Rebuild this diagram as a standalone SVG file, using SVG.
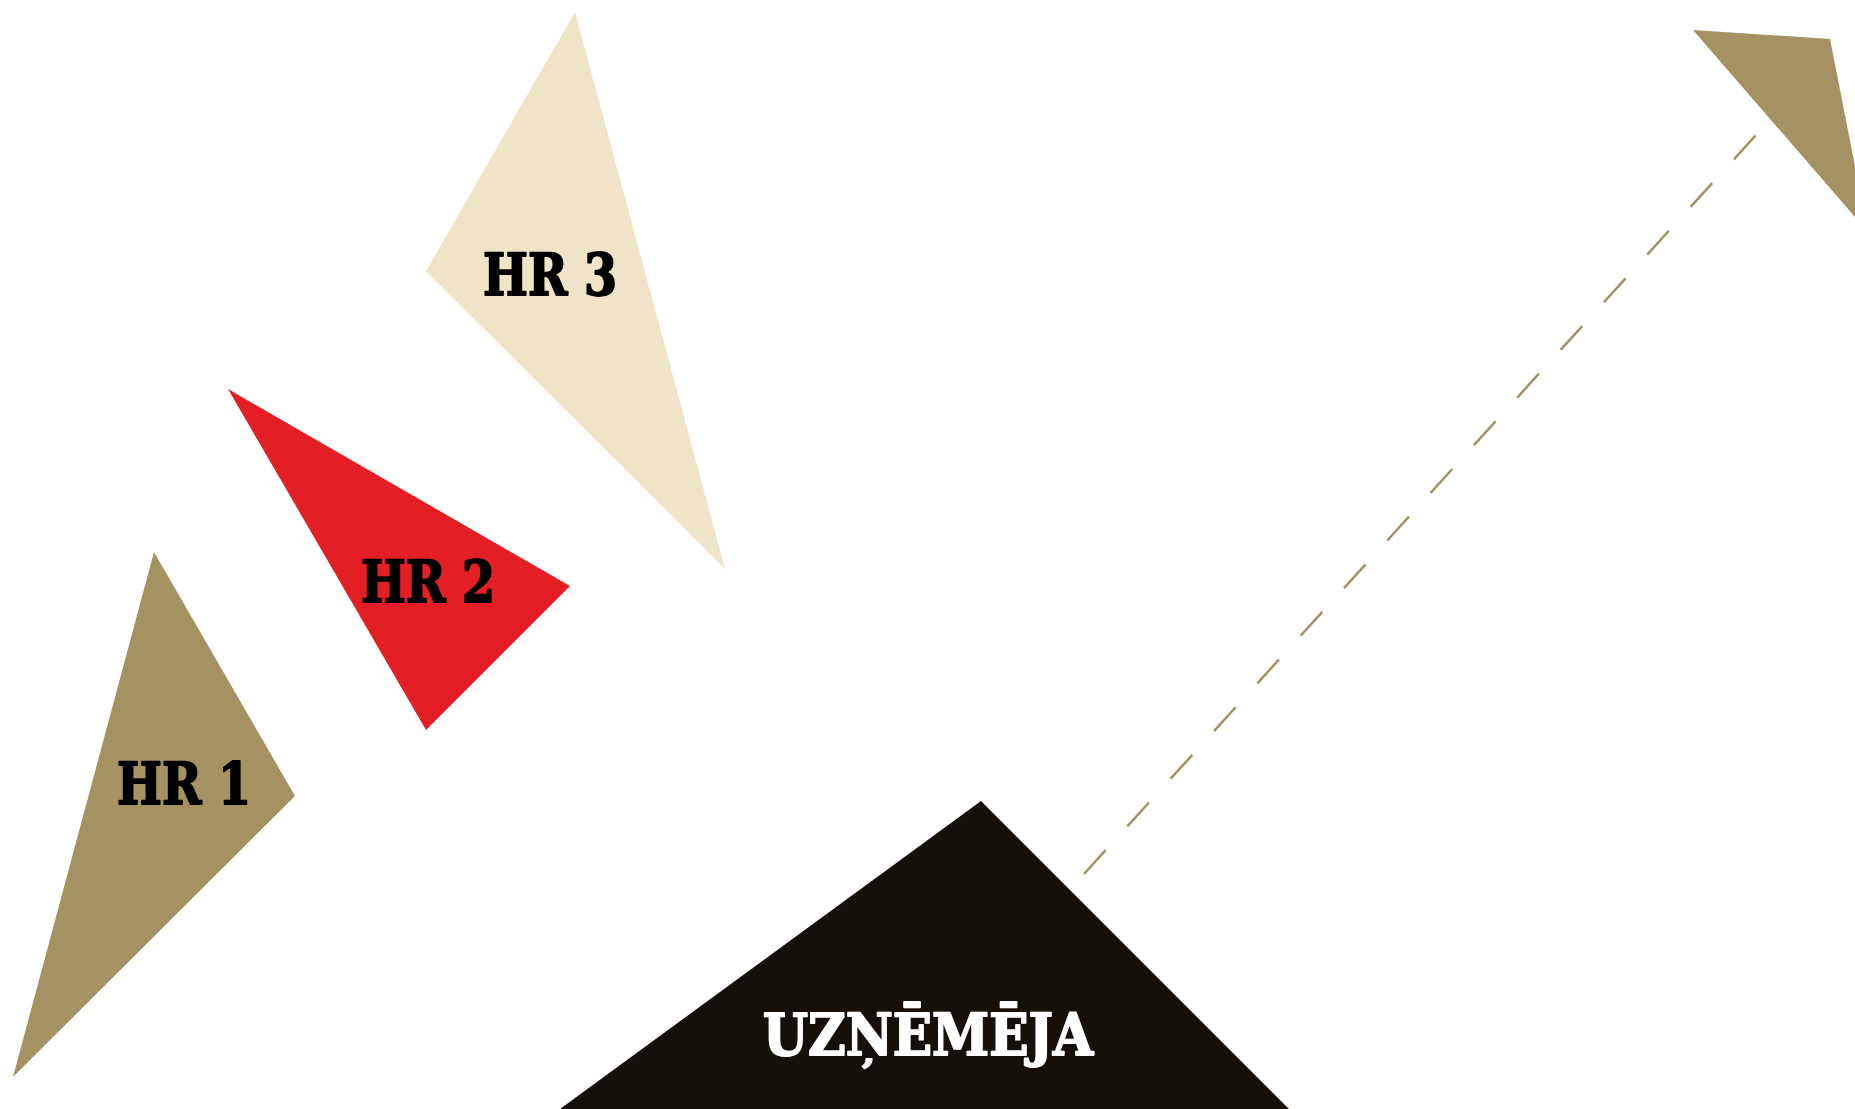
<svg xmlns="http://www.w3.org/2000/svg" width="1855" height="1109" viewBox="0 0 1855 1109">
<style>
.lbl{font-family:"DejaVu Serif Condensed","DejaVu Serif","Liberation Serif",serif;font-weight:bold;font-stretch:condensed;font-size:57px;text-anchor:middle;stroke-width:1.8;stroke-linejoin:round}
.dark{fill:#000;stroke:#000}
.light{fill:#fff;stroke:#fff}
.conn{fill:none;stroke:#A59262;stroke-width:2.5;stroke-dasharray:32.2 32.2}
</style>
<rect width="1855" height="1109" fill="#fff"/>
<g id="connectors">
<line class="conn" x1="1084" y1="874" x2="1756" y2="135"/>
</g>
<g id="hr3">
<polygon points="575,12 426,271 725,569" fill="#F0E4C8"/>
<text class="lbl dark" x="550" y="295" textLength="134" lengthAdjust="spacingAndGlyphs">HR 3</text>
</g>
<g id="hr2">
<polygon points="228,389 570,586 426,730" fill="#E31E25"/>
<text class="lbl dark" x="428" y="602" textLength="134" lengthAdjust="spacingAndGlyphs">HR 2</text>
</g>
<g id="hr1">
<polygon points="154,552 295,796 13,1077" fill="#A59262"/>
<text class="lbl dark" x="184" y="804" textLength="134" lengthAdjust="spacingAndGlyphs">HR 1</text>
</g>
<g id="top-right">
<polygon points="1693,30 1830,39 1868,232" fill="#A59262"/>
</g>
<g id="uznemeja">
<polygon points="981,801 1289,1109 560,1109" fill="#15110A"/>
<text class="lbl light" x="928" y="1055" textLength="330" lengthAdjust="spacingAndGlyphs">UZŅĒMĒJA</text>
</g>
</svg>
